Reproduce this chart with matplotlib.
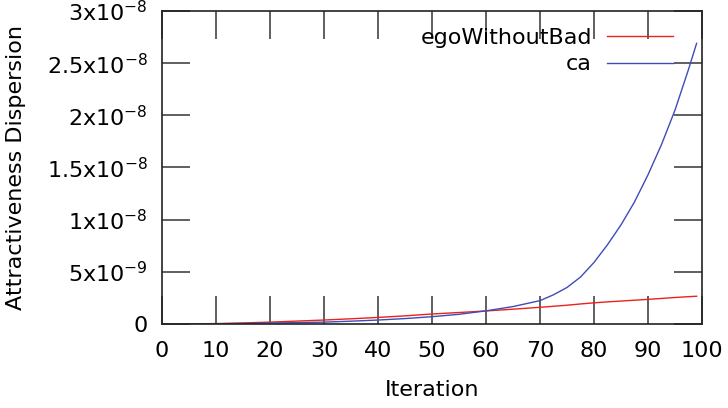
import matplotlib
matplotlib.use("Agg")
import matplotlib.pyplot as plt

iterations = [0, 5, 10, 15, 20, 25, 30, 35, 40, 45, 50, 55, 60, 65, 70, 72.5, 75, 77.5, 80,
              82.5, 85, 87.5, 90, 92.5, 95, 97.5, 99]
ego_without_bad = [0, 0.01, 0.04, 0.1, 0.18, 0.28, 0.38, 0.5, 0.63, 0.78, 0.96, 1.1, 1.25, 1.42, 1.6,
                   1.7, 1.8, 1.92, 2.03, 2.12, 2.2, 2.28, 2.36, 2.45, 2.54, 2.62, 2.66]
ca = [0, 0.005, 0.02, 0.05, 0.1, 0.13, 0.18, 0.27, 0.38, 0.52, 0.7, 0.93, 1.26, 1.67, 2.24,
      2.8, 3.5, 4.5, 5.9, 7.6, 9.5, 11.7, 14.3, 17.2, 20.5, 24.4, 26.9]
ego_without_bad = [v * 1e-9 for v in ego_without_bad]
ca = [v * 1e-9 for v in ca]

xticks = [0, 10, 20, 30, 40, 50, 60, 70, 80, 90, 100]
yticks = [0, 5e-9, 1e-8, 1.5e-8, 2e-8, 2.5e-8, 3e-8]
ytick_labels = ["0", "5x10$^{\\mathregular{-9}}$", "1x10$^{\\mathregular{-8}}$",
                "1.5x10$^{\\mathregular{-8}}$", "2x10$^{\\mathregular{-8}}$",
                "2.5x10$^{\\mathregular{-8}}$", "3x10$^{\\mathregular{-8}}$"]

plt.rcParams['font.family'] = ['DejaVu Sans']
plt.rcParams['mathtext.fontset'] = 'dejavusans'

fig = plt.figure(figsize=(7.28, 4.08), dpi=100)
ax = fig.add_axes([162/728, 84/408, 540/728, 313/408])

ax.plot(iterations, ego_without_bad, color='#e8221c', lw=1.0, label='egoWithoutBad')
ax.plot(iterations, ca, color='#3f4bb8', lw=1.0, label='ca')

ax.set_xlim(0, 100)
ax.set_ylim(0, 3e-8)
ax.set_xticks(xticks)
ax.set_xticklabels([str(t) for t in xticks])
ax.set_yticks(yticks)
ax.set_yticklabels(ytick_labels)

ax.tick_params(direction='in', length=20, width=1.2, color='#444444',
               top=True, right=True, labelsize=16, pad=12)
ax.tick_params(axis='y', pad=10)
for s in ax.spines.values():
    s.set_linewidth(1.2)
    s.set_color('#222222')

ax.set_xlabel('Iteration', fontsize=16, labelpad=14)
ax.set_ylabel('Attractiveness Dispersion', fontsize=16, labelpad=15)

leg = ax.legend(loc='upper right', frameon=False, markerfirst=False, fontsize=16,
                handlelength=2.97, handletextpad=0.68, labelspacing=0.3,
                bbox_to_anchor=(0.963, 0.975), borderaxespad=0.0)
for t in leg.get_texts():
    t.set_ha('right')

fig.savefig('out.png', dpi=100)
